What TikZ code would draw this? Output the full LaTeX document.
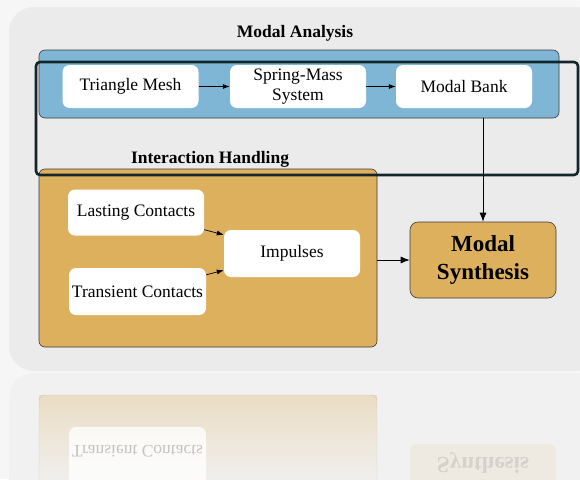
\documentclass[tikz,border=0pt]{standalone}
\usepackage{fontspec}
\setmainfont{Liberation Serif}
\usetikzlibrary{arrows.meta,fadings}

\definecolor{pagegray}{HTML}{F6F6F6}
\definecolor{panelgray}{HTML}{EBEBEB}
\definecolor{mirrorgray}{HTML}{F1F1F1}
\definecolor{analysisblue}{HTML}{7FB6D5}
\definecolor{handlingorange}{HTML}{DDB05E}
\definecolor{framenavy}{HTML}{14262D}
\definecolor{edgegray}{HTML}{3A3A3A}

\tikzfading[name=fade down, top color=transparent!70, bottom color=transparent!100]

\tikzset{
  block/.style={fill=white, rounded corners=7pt, inner sep=1pt, align=center,
    minimum width=136pt, font=\fontsize{17.5}{20}\selectfont},
  group/.style={draw=edgegray, line width=0.6pt, rounded corners=6pt, inner sep=0pt},
  heading/.style={font=\bfseries\fontsize{17.5}{20}\selectfont},
  flow/.style={-{Latex[length=9pt,width=7pt]}, line width=0.8pt},
  smallflow/.style={-{Latex[length=7pt,width=5pt]}, line width=0.7pt},
}

\begin{document}
\begin{tikzpicture}[x=1pt,y=-1pt]
  \clip (0,0) rectangle (580,479);
  \fill[pagegray] (0,0) rectangle (580,479);

  % mirrored floor
  \fill[mirrorgray, rounded corners=25pt] (9,373) rectangle (600,700);
  \fill[handlingorange, path fading=fade down] (39,395) rectangle (377,488);
  \draw[edgegray, opacity=0.15, rounded corners=6pt] (39,488) -- (39,395) -- (377,395) -- (377,488);
  \fill[white, opacity=0.8, rounded corners=7pt] (69,427) rectangle (206,490);
  \node[yscale=-1, opacity=0.22, font=\fontsize{17.5}{20}\selectfont] (mirrortext) at (137.5,451) {Transient Contacts};
  \fill[handlingorange, opacity=0.1, rounded corners=7pt] (410,444) rectangle (556,500);
  \node[yscale=-1, opacity=0.1, font=\bfseries\fontsize{23}{28}\selectfont] (mirrorsynth) at (483,463) {Synthesis};

  % back panel
  \fill[panelgray, rounded corners=25pt] (9,7) rectangle (600,371);

  % modal analysis
  \node[heading] (analysistitle) at (295,33) {Modal Analysis};
  \node[group, fill=analysisblue, minimum width=520pt, minimum height=68pt] (analysis) at (299,84) {};
  \node[block, minimum height=43pt] (mesh) at (130.5,86.5) {Triangle Mesh};
  \node[block, minimum height=43pt] (spring) at (298,86.5) {Spring-Mass\\System};
  \node[block, minimum height=43pt] (bank) at (464,86.5) {Modal Bank};
  \draw[smallflow] (mesh) -- (spring);
  \draw[smallflow] (spring) -- (bank);

  % interaction handling
  \node[heading] (handlingtitle) at (210,159) {Interaction Handling};
  \node[group, fill=handlingorange, minimum width=338pt, minimum height=178pt] (handling) at (208,258) {};
  \node[block, minimum height=46pt] (lasting) at (136,212.5) {Lasting Contacts};
  \node[block, minimum height=47pt, minimum width=137pt] (transient) at (137.5,291.5) {Transient Contacts};
  \node[block, minimum height=47pt] (impulses) at (292,253.5) {Impulses};
  \draw[smallflow] ([yshift=6pt]lasting.south east) -- ([yshift=-5pt]impulses.north west);
  \draw[smallflow] ([yshift=-7pt]transient.north east) -- ([yshift=7pt]impulses.south west);

  % frame round the first stage
  \draw[framenavy, line width=2.6pt, rounded corners=4pt] (36,62) rectangle (578,175);

  % synthesis
  \node[group, fill=handlingorange, rounded corners=8pt, minimum width=146pt, minimum height=76pt,
    align=center, font=\bfseries\fontsize{23}{28}\selectfont] (synth) at (483,260) {Modal\\Synthesis};
  \draw[flow] (analysis.south -| synth.north) -- (synth.north);
  \draw[flow] (handling.east |- synth.west) -- (synth.west);
\end{tikzpicture}
\end{document}
